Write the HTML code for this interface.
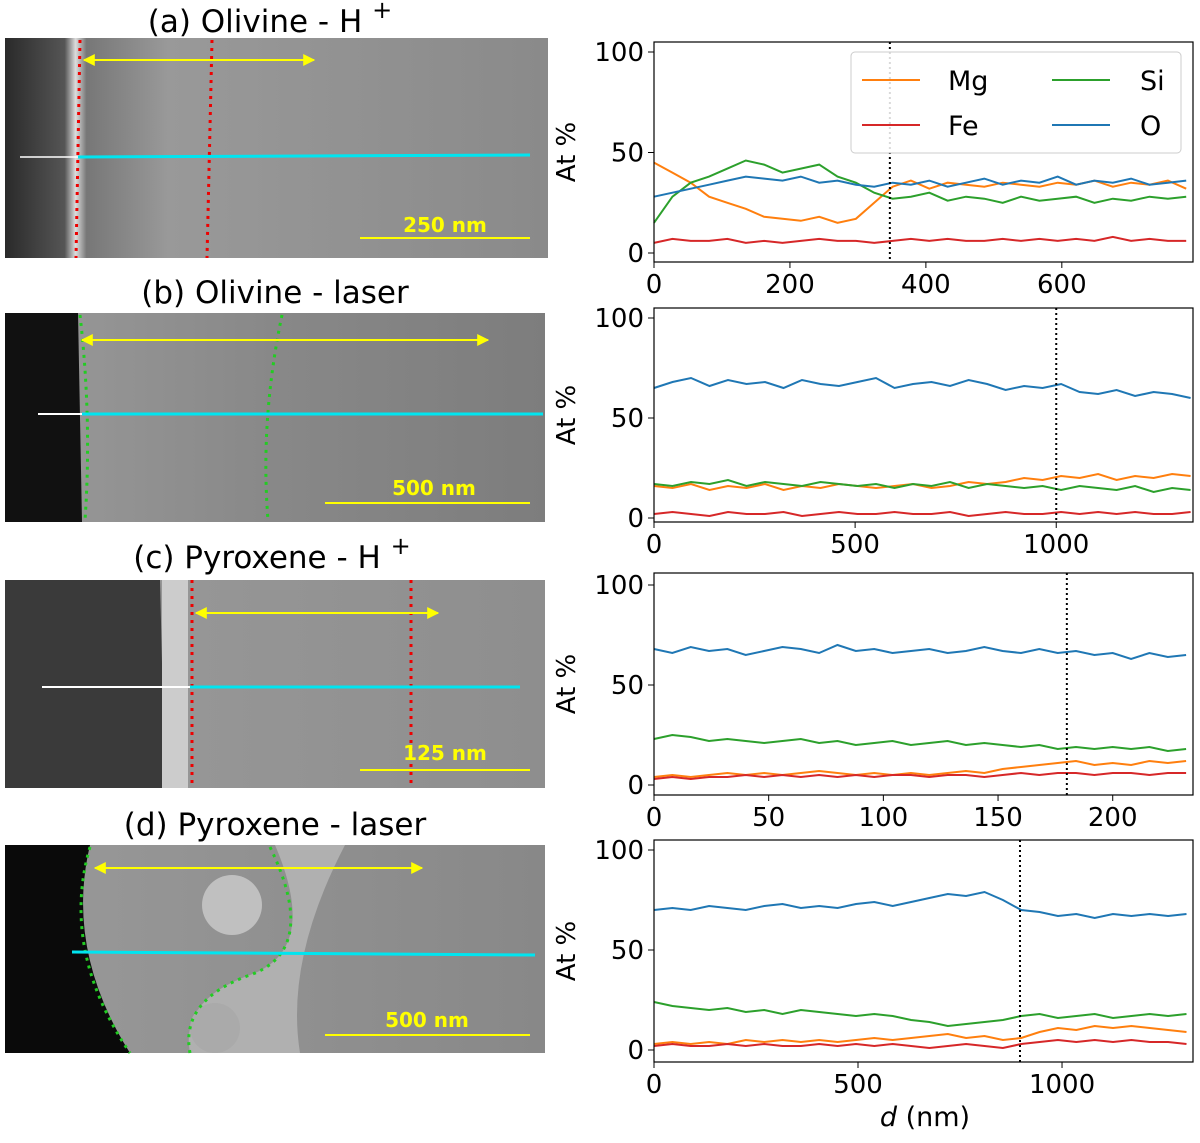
<!DOCTYPE html>
<html><head><meta charset="utf-8"><style>
body{margin:0;background:#fff;width:1200px;height:1138px;overflow:hidden;font-family:"Liberation Sans","DejaVu Sans",sans-serif}
</style></head><body>
<svg id="root" width="1200" height="1138" xmlns="http://www.w3.org/2000/svg" font-family="DejaVu Sans, Liberation Sans, sans-serif">
<defs>
<linearGradient id="ga" x1="0" x2="1"><stop offset="0" stop-color="#2a2a2a"/><stop offset="0.11" stop-color="#555"/><stop offset="0.13" stop-color="#ddd"/><stop offset="0.15" stop-color="#777"/><stop offset="0.3" stop-color="#999"/><stop offset="1" stop-color="#8a8a8a"/></linearGradient>
<linearGradient id="gb" x1="0" x2="1"><stop offset="0" stop-color="#9a9a9a"/><stop offset="0.5" stop-color="#888"/><stop offset="1" stop-color="#7d7d7d"/></linearGradient>
<linearGradient id="gc" x1="0" x2="1"><stop offset="0" stop-color="#9a9a9a"/><stop offset="1" stop-color="#8e8e8e"/></linearGradient>
<linearGradient id="gd" x1="0" x2="1"><stop offset="0" stop-color="#999"/><stop offset="1" stop-color="#888"/></linearGradient>
<marker id="ah" viewBox="0 0 10 10" refX="9" refY="5" markerWidth="6" markerHeight="6" orient="auto-start-reverse"><path d="M0,0 L10,5 L0,10 z" fill="#ff0"/></marker>
</defs>
<g>
<text x="270" y="32" font-size="31" text-anchor="middle">(a) Olivine - H <tspan font-size="24" dy="-14">+</tspan></text>
<rect x="5" y="38" width="543" height="220" fill="url(#ga)"/>
<line x1="80" y1="40" x2="76" y2="258" stroke="#e00" stroke-width="3" stroke-dasharray="3,5"/>
<line x1="212" y1="40" x2="207" y2="258" stroke="#e00" stroke-width="3" stroke-dasharray="3,5"/>
<line x1="84" y1="60" x2="314" y2="60" stroke="#ff0" stroke-width="2" marker-start="url(#ah)" marker-end="url(#ah)"/>
<line x1="20" y1="157" x2="78" y2="157" stroke="#fff" stroke-width="1.5"/>
<line x1="78" y1="157" x2="530" y2="155" stroke="#00e5f0" stroke-width="3"/>
<line x1="360" y1="238" x2="530" y2="238" stroke="#ff0" stroke-width="2"/>
<text x="445" y="232" font-size="20" font-weight="bold" fill="#ff0" text-anchor="middle">250 nm</text>
</g>
<g>
<text x="275" y="303" font-size="31" text-anchor="middle">(b) Olivine - laser</text>
<rect x="5" y="313" width="540" height="209" fill="url(#gb)"/>
<polygon points="5,313 78,313 82,522 5,522" fill="#111"/>
<path d="M80,315 Q92,420 85,520" stroke="#2c2" stroke-width="3" stroke-dasharray="3,5" fill="none"/>
<path d="M282,315 Q260,420 268,520" stroke="#2c2" stroke-width="3" stroke-dasharray="3,5" fill="none"/>
<line x1="82" y1="340" x2="488" y2="340" stroke="#ff0" stroke-width="2" marker-start="url(#ah)" marker-end="url(#ah)"/>
<line x1="38" y1="414" x2="82" y2="414" stroke="#fff" stroke-width="2"/>
<line x1="82" y1="414" x2="543" y2="414" stroke="#00e5f0" stroke-width="3"/>
<line x1="325" y1="503" x2="530" y2="503" stroke="#ff0" stroke-width="2"/>
<text x="434" y="495" font-size="20" font-weight="bold" fill="#ff0" text-anchor="middle">500 nm</text>
</g>
<g>
<text x="272" y="568" font-size="31" text-anchor="middle">(c) Pyroxene - H <tspan font-size="24" dy="-14">+</tspan></text>
<rect x="5" y="580" width="540" height="208" fill="url(#gc)"/>
<polygon points="5,580 160,580 165,788 5,788" fill="#3a3a3a"/>
<rect x="162" y="580" width="26" height="208" fill="#ccc"/>
<line x1="192" y1="580" x2="192" y2="788" stroke="#e00" stroke-width="3" stroke-dasharray="3,5"/>
<line x1="411" y1="580" x2="411" y2="788" stroke="#e00" stroke-width="3" stroke-dasharray="3,5"/>
<line x1="196" y1="613" x2="438" y2="613" stroke="#ff0" stroke-width="2" marker-start="url(#ah)" marker-end="url(#ah)"/>
<line x1="42" y1="687" x2="190" y2="687" stroke="#fff" stroke-width="2"/>
<line x1="190" y1="687" x2="520" y2="687" stroke="#00e5f0" stroke-width="3"/>
<line x1="360" y1="770" x2="530" y2="770" stroke="#ff0" stroke-width="2"/>
<text x="445" y="760" font-size="20" font-weight="bold" fill="#ff0" text-anchor="middle">125 nm</text>
</g>
<g>
<text x="275" y="835" font-size="31" text-anchor="middle">(d) Pyroxene - laser</text>
<rect x="5" y="845" width="540" height="208" fill="url(#gd)"/>
<path d="M5,845 L90,845 Q65,950 130,1053 L5,1053 Z" fill="#0a0a0a"/>
<path d="M275,845 Q320,950 250,975 Q180,1000 190,1053 L300,1053 Q285,960 345,845 Z" fill="#b0b0b0"/>
<circle cx="232" cy="905" r="30" fill="#c0c0c0"/>
<circle cx="215" cy="1028" r="25" fill="#aaa"/>
<path d="M90,847 Q60,950 130,1053" stroke="#2c2" stroke-width="3" stroke-dasharray="3,5" fill="none"/>
<path d="M270,847 Q320,950 250,975 Q180,1000 190,1053" stroke="#2c2" stroke-width="3" stroke-dasharray="3,5" fill="none"/>
<line x1="95" y1="868" x2="422" y2="868" stroke="#ff0" stroke-width="2" marker-start="url(#ah)" marker-end="url(#ah)"/>
<line x1="72" y1="952" x2="535" y2="955" stroke="#00e5f0" stroke-width="3"/>
<line x1="325" y1="1035" x2="530" y2="1035" stroke="#ff0" stroke-width="2"/>
<text x="427" y="1027" font-size="20" font-weight="bold" fill="#ff0" text-anchor="middle">500 nm</text>
</g>
<g id="charts"></g>
</svg>
<script>
const xA=[0,27,54,81,108,135,162,189,216,243,270,297,324,351,378,405,432,459,486,513,540,567,594,621,648,675,702,729,756,783];
const mgA=[45,40,35,28,25,22,18,17,16,18,15,17,25,33,36,32,35,34,33,35,34,33,35,34,36,33,35,34,36,32];
const siA=[15,28,35,38,42,46,44,40,42,44,38,35,30,27,28,30,26,28,27,25,28,26,27,28,25,27,26,28,27,28];
const oA=[28,30,32,34,36,38,37,36,38,35,36,34,33,35,34,36,33,35,37,34,36,35,38,34,36,35,37,34,35,36];
const feA=[5,7,6,6,7,5,6,5,6,7,6,6,5,6,7,6,7,6,6,7,6,7,6,7,6,8,6,7,6,6];
const xB=[0,46,92,138,184,230,276,322,368,414,460,506,552,598,644,690,736,782,828,874,920,966,1012,1058,1104,1150,1196,1242,1288,1334];
const oB=[65,68,70,66,69,67,68,65,69,67,66,68,70,65,67,68,66,69,67,64,66,65,67,63,62,64,61,63,62,60];
const mgB=[16,15,17,14,16,15,17,14,16,15,17,16,15,16,17,15,16,18,17,18,20,19,21,20,22,19,21,20,22,21];
const siB=[17,16,18,17,19,16,18,17,16,18,17,16,17,15,17,16,18,15,17,16,15,16,14,16,15,14,16,13,15,14];
const feB=[2,3,2,1,3,2,2,3,1,2,3,2,2,3,2,2,3,1,2,3,2,2,3,2,3,2,3,2,2,3];
const xC=[0,8,16,24,32,40,48,56,64,72,80,88,96,104,112,120,128,136,144,152,160,168,176,184,192,200,208,216,224,232];
const oC=[68,66,69,67,68,65,67,69,68,66,70,67,68,66,67,68,66,67,69,67,66,68,66,67,65,66,63,66,64,65];
const siC=[23,25,24,22,23,22,21,22,23,21,22,20,21,22,20,21,22,20,21,20,19,20,18,19,18,19,18,19,17,18];
const mgC=[4,5,4,5,6,5,6,5,6,7,6,5,6,5,6,5,6,7,6,8,9,10,11,12,10,11,10,12,11,12];
const feC=[3,4,3,4,4,5,4,5,4,5,4,5,4,5,5,4,5,5,4,5,6,5,6,6,5,6,6,5,6,6];
const xD=[0,45,90,135,180,225,270,315,360,405,450,495,540,585,630,675,720,765,810,855,900,945,990,1035,1080,1125,1170,1215,1260,1305];
const oD=[70,71,70,72,71,70,72,73,71,72,71,73,74,72,74,76,78,77,79,75,70,69,67,68,66,68,67,68,67,68];
const siD=[24,22,21,20,21,19,20,18,20,19,18,17,18,17,15,14,12,13,14,15,17,18,16,17,18,16,17,18,17,18];
const mgD=[3,4,3,4,3,5,4,5,4,5,4,5,6,5,6,7,8,6,7,5,6,9,11,10,12,11,12,11,10,9];
const feD=[2,3,2,2,3,2,3,2,2,3,2,3,2,3,2,1,2,3,2,1,3,4,5,4,5,4,5,4,4,3];
const ticksA=[0,200,400,600], ticksB=[0,500,1000], ticksC=[0,50,100,150,200], ticksD=[0,500,1000];
const yTicks=[0,50,100];
const dashA=347, dashB=1000, dashC=180, dashD=897;
const C={Mg:'#ff7f0e',Fe:'#d62728',Si:'#2ca02c',O:'#1f77b4'};
const NS='http://www.w3.org/2000/svg';
const root=document.getElementById('charts');
function mk(t,a,p){const e=document.createElementNS(NS,t);for(const k in a)e.setAttribute(k,a[k]);(p||root).appendChild(e);return e;}
function chart(id,top,bot,y100,y0,xmax,xs,series,ticks,dash){
  const L=654,R=1193;
  const g=mk('g',{});
  
  
  const sx=v=>L+(R-L)*v/xmax, sy=v=>y0+(y100-y0)*v/100;
  for(const s of series){
    const d=xs.map((x,i)=>(i?'L':'M')+sx(x).toFixed(1)+','+sy(s[1][i]).toFixed(1)).join('');
    const p=mk('path',{d:d,fill:'none',stroke:C[s[0]],'stroke-width':2},g);
    
    
  }
  const dl=mk('line',{x1:sx(dash),x2:sx(dash),y1:top,y2:bot,stroke:'#000','stroke-width':2,'stroke-dasharray':'2,3'},g);
  
  
  mk('rect',{x:L,y:top,width:R-L,height:bot-top,fill:'none',stroke:'#000','stroke-width':1.2},g);
  for(const t of ticks){
    mk('line',{x1:sx(t),x2:sx(t),y1:bot,y2:bot+6,stroke:'#000'},g);
    const tx=mk('text',{x:sx(t),y:bot+31,'font-size':26,'text-anchor':'middle'},g);tx.textContent=t;
    
    
  }
  for(const t of yTicks){
    mk('line',{x1:L-6,x2:L,y1:sy(t),y2:sy(t),stroke:'#000'},g);
    const tx=mk('text',{x:L-10,y:sy(t)+9,'font-size':26,'text-anchor':'end'},g);tx.textContent=t;
    
    
  }
  const yl=mk('text',{x:0,y:0,'font-size':26,'text-anchor':'middle',transform:`translate(575,${(top+bot)/2}) rotate(-90)`},g);
  yl.textContent='At %';
  
  
}
chart('a',42,262,52,253,793,xA,[['Mg',mgA],['Si',siA],['O',oA],['Fe',feA]],ticksA,dashA);
chart('b',308,522,318,518,1340,xB,[['O',oB],['Mg',mgB],['Si',siB],['Fe',feB]],ticksB,dashB);
chart('c',573,795,585,785,235,xC,[['O',oC],['Si',siC],['Mg',mgC],['Fe',feC]],ticksC,dashC);
chart('d',840,1062,850,1050,1321,xD,[['O',oD],['Si',siD],['Mg',mgD],['Fe',feD]],ticksD,dashD);
const lg=mk('g',{});


mk('rect',{x:851,y:52,width:330,height:101,rx:4,fill:'#fff','fill-opacity':0.85,stroke:'#ccc'},lg);
const ent=[['Mg',862,948,80],['Fe',862,948,125],['Si',1052,1140,80],['O',1052,1140,125]];
for(const e of ent){
  const eg=mk('g',{},lg);
  
  
  mk('line',{x1:e[1],x2:e[1]+58,y1:e[3],y2:e[3],stroke:C[e[0]],'stroke-width':2},eg);
  const t=mk('text',{x:e[2],y:e[3]+10,'font-size':27},eg);t.textContent=e[0];
}
const xt=mk('text',{x:925,y:1126,'font-size':27,'text-anchor':'middle'});
xt.innerHTML='<tspan font-style="italic">d</tspan> (nm)';


</script>
</body></html>
